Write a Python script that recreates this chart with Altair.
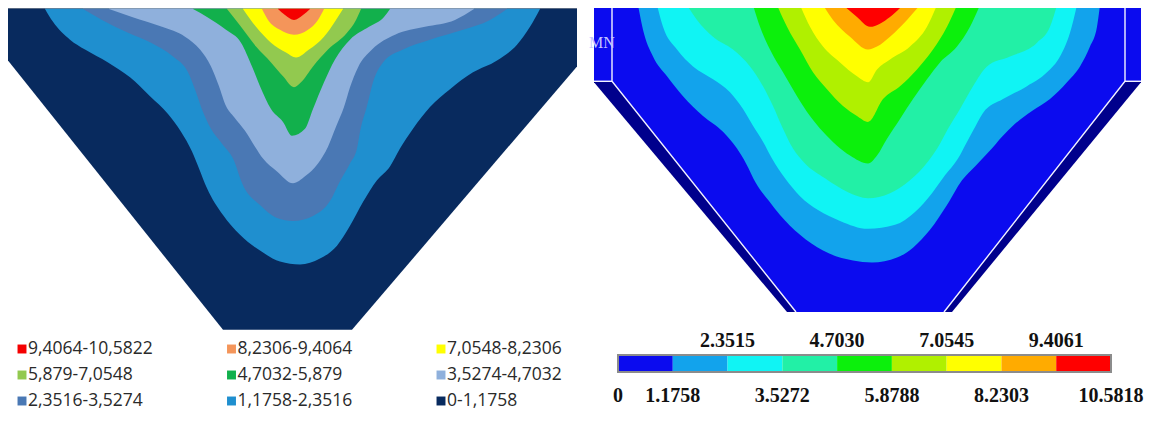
import altair as alt
import pandas as pd

# ---------------- left model: thresholds, legend labels, colours ----------------
LEFT_LABELS = ["0-1,1758", "1,1758-2,3516", "2,3516-3,5274", "3,5274-4,7032",
               "4,7032-5,879", "5,879-7,0548", "7,0548-8,2306", "8,2306-9,4064",
               "9,4064-10,5822"]
LEFT_COLORS = ["#082a5e", "#1f8fcf", "#4a78b4", "#8fb0dc", "#12b04c",
               "#92c94f", "#ffff00", "#f4955a", "#f50000"]

# section outline (x, depth) of the left model
L_SHAPE_X = [8, 223, 352, 577]
L_SHAPE_Y = [61, 333, 333, 67]
L_TOP = 8.5

# contour boundaries (lower edge of each band region)
L1_X = [45, 53, 70, 85, 108, 130, 150, 168, 181, 192, 199, 207, 223, 240, 260, 280, 300, 320, 337, 350,
        363, 377, 390, 400, 413, 430, 450, 473, 497, 517, 530, 540]
L1_Y = [9, 22, 40, 50, 63, 78, 97, 115, 133, 153, 170, 190, 217, 237, 253, 264, 267, 261, 248, 228,
        204, 182, 168, 150, 130, 108, 90, 73, 61, 45, 27, 9]
L2_X = [83, 102, 128, 151, 173, 188, 196, 203, 211, 222, 233, 243, 260, 277, 293, 313, 330, 340, 350, 357,
        360, 367, 373, 383, 403, 430, 463, 490, 507]
L2_Y = [9, 20, 33, 43, 57, 73, 93, 113, 130, 145, 160, 187, 207, 220, 223, 218, 203, 183, 165, 150,
        133, 107, 83, 63, 50, 40, 30, 20, 9]
L3_X = [109, 132, 162, 185, 200, 211, 219, 226, 234, 245, 255, 263, 277, 293, 305, 318, 328, 336, 344, 350,
        358, 372, 395, 425, 455, 474]
L3_Y = [9, 17, 27, 37, 50, 67, 87, 107, 118, 132, 148, 160, 173, 185, 178, 165, 148, 128, 108, 88,
        68, 50, 35, 27, 20, 9]
L4_X = [193, 207, 226, 241, 252, 260, 271, 283, 292, 305, 313, 324, 335, 350, 369, 384, 390]
L4_Y = [9, 17, 30, 43, 67, 87, 110, 123, 137, 130, 110, 83, 60, 40, 27, 17, 9]
L5_X = [227, 241, 256, 271, 283, 294, 301, 313, 328, 347, 356, 361]
L5_Y = [9, 27, 47, 63, 77, 88, 83, 67, 50, 33, 20, 9]
L6_X = [243, 256, 271, 286, 296, 309, 324, 336, 343]
L6_Y = [9, 27, 43, 53, 58, 50, 37, 20, 9]
L7_X = [262, 268, 280, 294, 308, 318, 324]
L7_Y = [9, 20, 30, 35, 30, 20, 9]
L8_X = [278, 285, 294, 303, 310]
L8_Y = [9, 15, 20, 15, 9]

# ---------------- right model ----------------
RIGHT_LEVELS = [0, 1.1758, 2.3515, 3.5272, 4.7030, 5.8788, 7.0545, 8.2303, 9.4061, 10.5818]
RIGHT_TICKS = ["0", "1.1758", "2.3515", "3.5272", "4.7030", "5.8788", "7.0545", "8.2303", "9.4061", "10.5818"]
RIGHT_COLORS = ["#0b0bef", "#12a3ec", "#10f4f4", "#22f0a6", "#0cf00c",
                "#b0f000", "#ffff00", "#ffab00", "#ff0000"]
TOP_TICKS = [2, 4, 6, 8]          # indices of tick labels printed above the bar
BOTTOM_TICKS = [0, 1, 3, 5, 7, 9]  # indices printed below the bar

R_OUTER_X = [594, 787, 952, 1141]
R_OUTER_Y = [83, 315, 315, 83]
R_INNER_X = [594, 612, 796, 944, 1125, 1141]
R_INNER_Y = [82, 82, 315, 315, 82, 82]
R_TOP = 5

R1_X = [638, 643, 653, 667, 683, 703, 723, 737, 746, 756, 769, 780, 800, 823, 853, 872, 897, 913, 930, 947,
        962, 975, 990, 1002, 1015, 1032, 1050, 1067, 1080, 1090, 1097, 1100]
R1_Y = [5, 30, 57, 77, 97, 117, 133, 150, 165, 185, 203, 217, 237, 253, 263, 265, 260, 250, 232, 207,
        182, 168, 152, 138, 125, 112, 100, 83, 67, 47, 27, 5]
R2_X = [657, 663, 677, 693, 713, 730, 743, 753, 763, 772, 785, 800, 818, 840, 868, 895, 915, 932, 945, 958,
        966, 973, 983, 1003, 1027, 1047, 1060, 1070, 1077]
R2_Y = [5, 27, 50, 67, 80, 93, 110, 127, 143, 160, 180, 198, 212, 223, 231, 227, 214, 195, 177, 160,
        145, 132, 114, 100, 87, 73, 57, 33, 5]
R3_X = [687, 697, 713, 733, 750, 763, 773, 783, 793, 805, 825, 848, 868, 890, 910, 928, 940, 948, 960, 973,
        987, 1010, 1037, 1050, 1057]
R3_Y = [5, 20, 37, 50, 67, 87, 107, 130, 150, 165, 180, 194, 200, 195, 182, 163, 145, 130, 110, 87,
        67, 57, 43, 27, 5]
R4_X = [753, 760, 770, 783, 797, 810, 823, 837, 850, 868, 877, 887, 900, 913, 927, 940, 957, 970, 980]
R4_Y = [5, 27, 50, 73, 97, 117, 133, 147, 157, 165, 157, 140, 120, 100, 80, 63, 47, 27, 5]
R5_X = [777, 787, 800, 813, 827, 843, 857, 868, 883, 900, 917, 933, 947, 957]
R5_Y = [5, 27, 50, 73, 90, 107, 117, 123, 100, 87, 70, 50, 27, 5]
R6_X = [800, 810, 823, 840, 857, 868, 877, 890, 910, 927, 937]
R6_Y = [5, 27, 47, 63, 77, 83, 70, 60, 47, 27, 5]
R7_X = [823, 833, 850, 868, 877, 890, 907, 920]
R7_Y = [5, 20, 37, 50, 47, 37, 20, 5]
R8_X = [843, 857, 870, 890, 903]
R8_Y = [5, 17, 27, 17, 5]

# frame lines of the right model (white outline)
FRAME_SEG = ["a", "a", "a", "b", "b", "c", "c", "c", "d", "d"]
FRAME_X = [612, 612, 796, 594, 612, 1125, 1125, 944, 1125, 1141]
FRAME_Y = [5, 82, 315, 82, 82, 5, 82, 315, 82, 82]

# ---------------- build ----------------
W, H = 1147, 407
RIGHT_BANDS = [f"{RIGHT_TICKS[i]}-{RIGHT_TICKS[i + 1]}" for i in range(9)]
COLOR = alt.Scale(domain=LEFT_LABELS + RIGHT_BANDS + ["frame"],
                  range=LEFT_COLORS + RIGHT_COLORS + ["#00008c"])
XS = alt.Scale(domain=[8, 8 + W], nice=False, zero=False)
YS = alt.Scale(domain=[8, 419], reverse=True, nice=False, zero=False)


def band(xs, ys, top, name, interp="monotone"):
    df = pd.DataFrame({"x": xs, "y": ys, "top": top, "band": name})
    return alt.Chart(df).mark_area(interpolate=interp).encode(
        x=alt.X("x:Q", scale=XS, axis=None),
        y=alt.Y("y:Q", scale=YS, axis=None),
        y2=alt.Y2("top:Q"),
        color=alt.Color("band:N", scale=COLOR, legend=None),
    )


layers = []
# left model
layers.append(band(L_SHAPE_X, L_SHAPE_Y, 8, LEFT_LABELS[0], "linear"))
left_curves = [(L1_X, L1_Y), (L2_X, L2_Y), (L3_X, L3_Y), (L4_X, L4_Y),
               (L5_X, L5_Y), (L6_X, L6_Y), (L7_X, L7_Y), (L8_X, L8_Y)]
for i, (cx, cy) in enumerate(left_curves):
    layers.append(band(cx, cy, L_TOP, LEFT_LABELS[i + 1]))
# thin grey top edge of the left section
top_edge = pd.DataFrame({"x": [L_SHAPE_X[0]], "x2": [L_SHAPE_X[-1]], "y": [8]})
layers.append(alt.Chart(top_edge).mark_rule(color="#a8a8a8", strokeWidth=1.2).encode(
    x=alt.X("x:Q", scale=XS, axis=None), x2="x2:Q", y=alt.Y("y:Q", scale=YS, axis=None)))

# right model
layers.append(band(R_OUTER_X, R_OUTER_Y, R_TOP, "frame", "linear"))
layers.append(band(R_INNER_X, R_INNER_Y, R_TOP, RIGHT_BANDS[0], "linear"))
right_curves = [(R1_X, R1_Y), (R2_X, R2_Y), (R3_X, R3_Y), (R4_X, R4_Y),
                (R5_X, R5_Y), (R6_X, R6_Y), (R7_X, R7_Y), (R8_X, R8_Y)]
for i, (cx, cy) in enumerate(right_curves):
    layers.append(band(cx, cy, R_TOP, RIGHT_BANDS[i + 1]))

frame_df = pd.DataFrame({"seg": FRAME_SEG, "x": FRAME_X, "y": FRAME_Y,
                         "o": list(range(len(FRAME_X)))})
layers.append(alt.Chart(frame_df).mark_line(color="#f2f2ff", strokeWidth=1.4).encode(
    x=alt.X("x:Q", scale=XS, axis=None),
    y=alt.Y("y:Q", scale=YS, axis=None),
    detail="seg:N", order="o:Q"))

mn_df = pd.DataFrame({"x": [602], "y": [43], "t": ["MN"]})
layers.append(alt.Chart(mn_df).mark_text(font="Liberation Serif", fontSize=16,
                                         color="#c4c4ff").encode(
    x=alt.X("x:Q", scale=XS, axis=None), y=alt.Y("y:Q", scale=YS, axis=None), text="t:N"))

# colour bar of the right model
CBS = alt.Scale(domain=[RIGHT_LEVELS[0], RIGHT_LEVELS[-1]], range=[610, 1103], nice=False, zero=False)
cb_df = pd.DataFrame({"lo": RIGHT_LEVELS[:-1], "hi": RIGHT_LEVELS[1:], "band": RIGHT_BANDS})
layers.append(alt.Chart(cb_df).mark_rect().encode(
    x=alt.X("lo:Q", scale=CBS, axis=None), x2="hi:Q",
    y=alt.value(347), y2=alt.value(364),
    color=alt.Color("band:N", scale=COLOR, legend=None)))
cb_box = pd.DataFrame({"lo": [RIGHT_LEVELS[0]], "hi": [RIGHT_LEVELS[-1]]})
layers.append(alt.Chart(cb_box).mark_rect(filled=False, stroke="#8c8c8c", strokeWidth=2).encode(
    x=alt.X("lo:Q", scale=CBS, axis=None), x2="hi:Q",
    y=alt.value(347), y2=alt.value(364)))
top_df = pd.DataFrame({"v": [RIGHT_LEVELS[i] for i in TOP_TICKS], "t": [RIGHT_TICKS[i] for i in TOP_TICKS]})
bot_df = pd.DataFrame({"v": [RIGHT_LEVELS[i] for i in BOTTOM_TICKS], "t": [RIGHT_TICKS[i] for i in BOTTOM_TICKS]})
for df, yy in ((top_df, 333), (bot_df, 388)):
    layers.append(alt.Chart(df).mark_text(font="Liberation Serif", fontWeight="bold", fontSize=20,
                                          color="#111111", baseline="middle").encode(
        x=alt.X("v:Q", scale=CBS, axis=None), y=alt.value(yy), text="t:N"))

# legend of the left model (3 x 3 grid, highest class first)
order = LEFT_LABELS[::-1]
leg_df = pd.DataFrame({"band": order, "col": [i % 3 for i in range(9)], "row": [i // 3 for i in range(9)]})
LX = alt.Scale(type="point", domain=[0, 1, 2], range=[14, 433], padding=0)
LY = alt.Scale(type="point", domain=[0, 1, 2], range=[341, 393], padding=0)
layers.append(alt.Chart(leg_df).mark_square(size=80, opacity=1).encode(
    x=alt.X("col:O", scale=LX, axis=None), y=alt.Y("row:O", scale=LY, axis=None),
    color=alt.Color("band:N", scale=COLOR, legend=None)))
layers.append(alt.Chart(leg_df).mark_text(align="left", dx=6, font="Open Sans", fontSize=17.5,
                                          color="#2a2a2a", baseline="middle").encode(
    x=alt.X("col:O", scale=LX, axis=None), y=alt.Y("row:O", scale=LY, axis=None),
    text="band:N"))

chart = alt.layer(*layers).resolve_scale(x="independent", y="independent").properties(
    width=W, height=H, padding=0, autosize=alt.AutoSizeParams(type="none")
).configure_view(stroke=None)

chart.save("out.html", embed_options={"renderer": "svg", "actions": False})
